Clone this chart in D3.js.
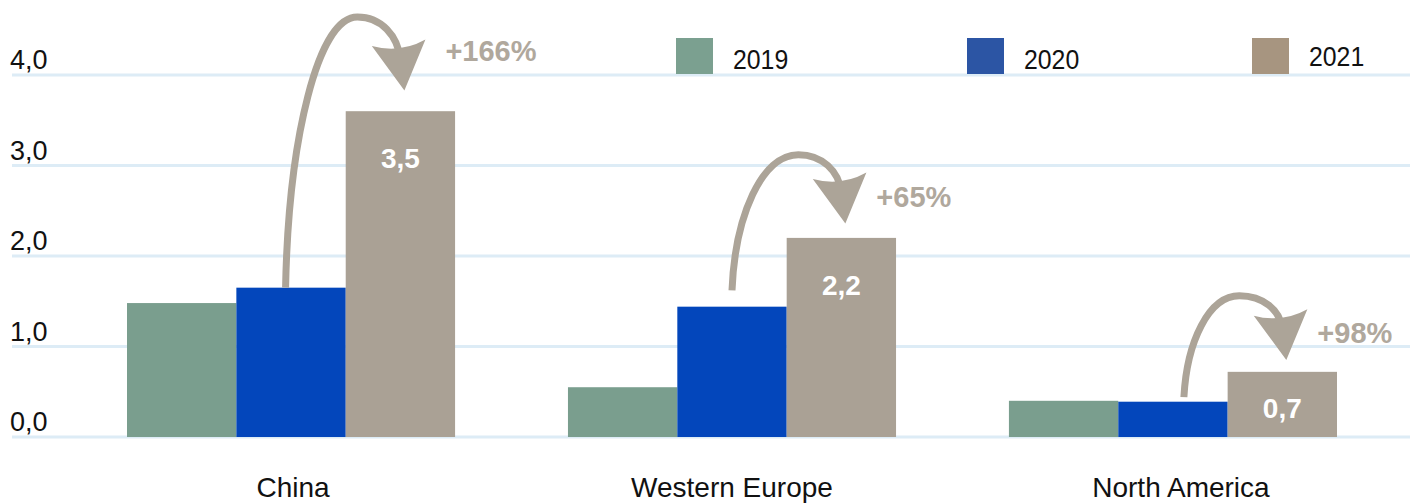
<!DOCTYPE html>
<html>
<head>
<meta charset="utf-8">
<script src="https://cdn.jsdelivr.net/npm/d3@7"></script>
<style>
  html, body { margin: 0; padding: 0; background: #ffffff; }
  svg { display: block; }
  text { font-family: "Liberation Sans", Arial, Helvetica, sans-serif; }
</style>
</head>
<body>
<svg id="chart" width="1415" height="503"></svg>
<script>
// ---- data ----
const categories = ["China", "Western Europe", "North America"];
const seriesNames = ["2019", "2020", "2021"];
const values2019 = [1.48, 0.55, 0.40];
const values2020 = [1.65, 1.44, 0.39];
const values2021 = [3.60, 2.20, 0.72];
const valueLabels2021 = ["3,5", "2,2", "0,7"];
const yTicks = [0, 1, 2, 3, 4];
const yTickLabels = ["0,0", "1,0", "2,0", "3,0", "4,0"];
// growth annotations (values in data units)
const growthLabels = ["+166%", "+65%", "+98%"];
const arrowFrom = [1.65, 1.62, 0.44];
const arrowPeak = [4.64, 3.12, 1.56];
const arrowTo = [3.83, 2.36, 0.85];
const growthLabelAt = [4.15, 2.54, 1.04];

// ---- styles ----
const barColors = ["#7a9e8e", "#0346bb", "#aaa195"];
const legendColors = ["#7ba090", "#2c55a4", "#a79580"];
const gridColor = "#ddecf6";
const arrowColor = "#aca498";
const growthColor = "#b0a89d";

const svg = d3.select("#chart");

const x = d3.scaleBand().domain(categories).range([127, 1337]).paddingInner(0.256).paddingOuter(0);
const xs = d3.scaleBand().domain(seriesNames).range([0, x.bandwidth()]).padding(0);
const y = d3.scaleLinear().domain([0, 4]).range([437, 75]);

// gridlines
svg.append("g").selectAll("line").data(yTicks).join("line")
  .attr("x1", 12).attr("x2", 1410)
  .attr("y1", d => y(d)).attr("y2", d => y(d))
  .attr("stroke", gridColor).attr("stroke-width", 3);

// y tick labels
svg.append("g").selectAll("text").data(yTicks).join("text")
  .attr("x", 10).attr("y", d => y(d) - 6)
  .attr("font-size", 27).attr("fill", "#111")
  .text((d, i) => yTickLabels[i]);

// bars
const series = [values2019, values2020, values2021];
series.forEach((vals, si) => {
  svg.append("g").selectAll("rect").data(categories).join("rect")
    .attr("x", c => x(c) + xs(seriesNames[si]))
    .attr("width", xs.bandwidth())
    .attr("y", (c, i) => y(vals[i]))
    .attr("height", (c, i) => y(0) - y(vals[i]))
    .attr("fill", barColors[si]);
});

// value labels in 2021 bars
svg.append("g").selectAll("text").data(categories).join("text")
  .attr("x", c => x(c) + xs("2021") + xs.bandwidth() / 2)
  .attr("y", (c, i) => Math.min(y(values2021[i]) + 57, y(0) - 19))
  .attr("text-anchor", "middle").attr("font-size", 28).attr("font-weight", "bold")
  .attr("fill", "#ffffff")
  .text((c, i) => valueLabels2021[i]);

// category labels
svg.append("g").selectAll("text").data(categories).join("text")
  .attr("x", (c, i) => x(c) + x.bandwidth() / 2 + [2, 0, 8][i])
  .attr("y", 497)
  .attr("text-anchor", "middle").attr("font-size", 28).attr("fill", "#111")
  .text(c => c);

// legend
const legend = svg.append("g");
seriesNames.forEach((s, i) => {
  const lx = [676, 967, 1252][i];
  legend.append("rect").attr("x", lx).attr("y", 38).attr("width", 37).attr("height", 36)
    .attr("fill", legendColors[i]);
  const tx = lx + 57;
  legend.append("text").attr("x", tx).attr("y", i === 2 ? 66 : 69)
    .attr("font-size", 27).attr("fill", "#111")
    .attr("transform", `translate(${tx},0) scale(0.92,1) translate(${-tx},0)`)
    .text(s);
});

// growth arrows
const arrows = svg.append("g");
categories.forEach((c, i) => {
  const fracs = [0.45, 0.5, 0.6];
  const sx = x(c) + xs("2020") + xs.bandwidth() * fracs[i];
  const sy = y(arrowFrom[i]);
  const tx = x(c) + xs("2021") + xs.bandwidth() / 2 + 4;
  const ty = y(arrowTo[i]);
  const px = tx - 47;
  const py = y(arrowPeak[i]);
  const d = [0.12, 0.993];
  const n = [-d[1], d[0]];
  const L = 48, W = 27, notch = 33;
  const bx = tx - d[0] * L, by = ty - d[1] * L;
  const nx = tx - d[0] * notch, ny = ty - d[1] * notch;
  const k = 0.55;
  const path = d3.path();
  path.moveTo(sx, sy);
  path.bezierCurveTo(sx + 3, sy - k * (sy - py), px - k * (px - sx), py, px, py);
  path.bezierCurveTo(px + k * (nx - px), py, nx - d[0] * k * (ny - py), ny - d[1] * k * (ny - py), nx, ny + 2);
  arrows.append("path").attr("d", path.toString())
    .attr("fill", "none").attr("stroke", arrowColor).attr("stroke-width", 7);
  const head = d3.path();
  head.moveTo(bx + n[0] * W, by + n[1] * W);
  head.quadraticCurveTo(nx - d[0] * 4, ny - d[1] * 4, bx - n[0] * W, by - n[1] * W);
  head.lineTo(tx, ty);
  head.closePath();
  arrows.append("path").attr("d", head.toString()).attr("fill", arrowColor);
  arrows.append("text").attr("x", tx + [41, 31, 31][i]).attr("y", y(growthLabelAt[i]))
    .attr("font-size", 29).attr("font-weight", "bold").attr("fill", growthColor)
    .text(growthLabels[i]);
});
</script>
</body>
</html>
